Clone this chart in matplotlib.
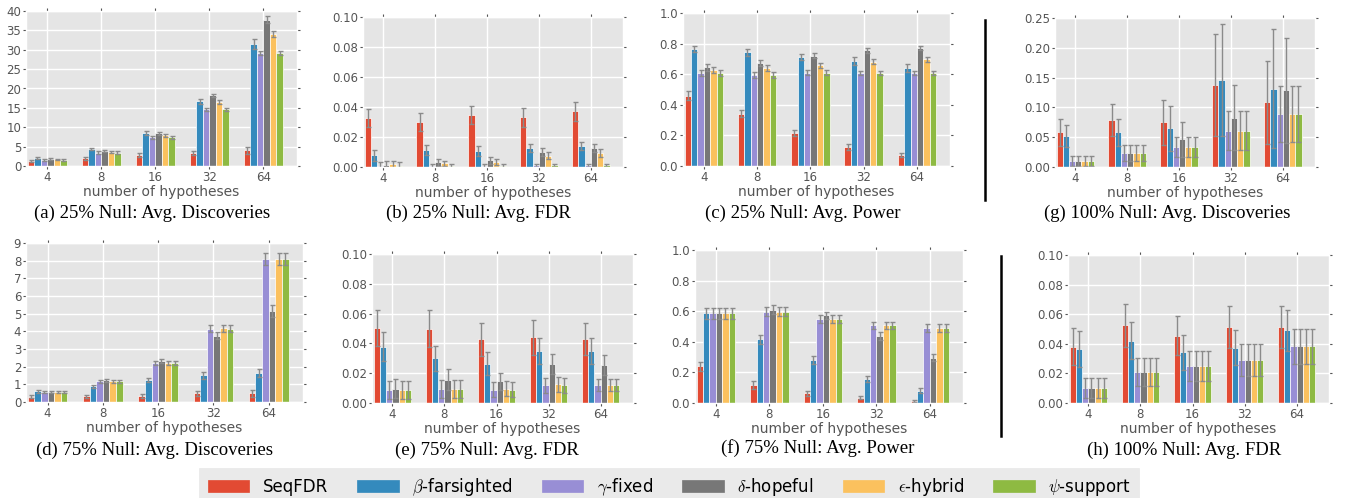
import numpy as np
import matplotlib
matplotlib.use('Agg')
import matplotlib.pyplot as plt

plt.style.use('ggplot')
plt.rcParams['mathtext.fontset'] = 'cm'

# categorias y metodos
hyps = ['4', '8', '16', '32', '64']
metodos = ['SeqFDR', r'$\beta$-farsighted', r'$\gamma$-fixed',
           r'$\delta$-hopeful', r'$\epsilon$-hybrid', r'$\psi$-support']
colores = ['#E24A33', '#348ABD', '#988ED5', '#777777', '#FBC15E', '#8EBA42']

# (a) 25% Null: Avg. Discoveries  (filas = metodo, columnas = hipotesis)
disc25 = [[1.3, 2.0, 2.85, 3.35, 4.05],
          [2.1, 4.4, 8.5, 16.7, 31.5],
          [1.6, 3.45, 7.4, 14.6, 29.2],
          [1.7, 3.9, 8.5, 18.2, 37.8],
          [1.7, 3.6, 7.9, 16.5, 34.1],
          [1.6, 3.45, 7.4, 14.6, 29.2]]
disc25_err = [[0.3, 0.4, 0.5, 0.6, 0.9],
              [0.3, 0.35, 0.5, 0.7, 1.2],
              [0.2, 0.3, 0.35, 0.45, 0.6],
              [0.25, 0.35, 0.4, 0.5, 0.8],
              [0.2, 0.3, 0.35, 0.5, 0.7],
              [0.2, 0.3, 0.35, 0.45, 0.6]]

# (b) 25% Null: Avg. FDR
fdr25 = [[0.0328, 0.0300, 0.0344, 0.0330, 0.0370],
         [0.0078, 0.0112, 0.0105, 0.0125, 0.0138],
         [0.0005, 0.0007, 0.0004, 0.0011, 0.0011],
         [0.0016, 0.0031, 0.0045, 0.0100, 0.0125],
         [0.0018, 0.0025, 0.0034, 0.0076, 0.0092],
         [0.0007, 0.0007, 0.0007, 0.0011, 0.0011]]
fdr25_err = [[0.006, 0.0058, 0.006, 0.0064, 0.0066],
             [0.0038, 0.0035, 0.0032, 0.0027, 0.0028],
             [0.0025, 0.0015, 0.0015, 0.001, 0.001],
             [0.0025, 0.0022, 0.0022, 0.0025, 0.0027],
             [0.0025, 0.0018, 0.002, 0.0025, 0.0025],
             [0.0025, 0.0015, 0.0015, 0.001, 0.001]]

# (c) 25% Null: Avg. Power
pow25 = [[0.459, 0.343, 0.214, 0.124, 0.072],
         [0.764, 0.742, 0.712, 0.686, 0.642],
         [0.607, 0.596, 0.611, 0.609, 0.605],
         [0.646, 0.672, 0.720, 0.755, 0.773],
         [0.629, 0.640, 0.657, 0.683, 0.697],
         [0.607, 0.596, 0.611, 0.609, 0.605]]
pow25_err = [[0.028, 0.025, 0.02, 0.017, 0.013],
             [0.022, 0.022, 0.022, 0.025, 0.025],
             [0.02, 0.018, 0.015, 0.013, 0.013],
             [0.022, 0.02, 0.016, 0.015, 0.013],
             [0.02, 0.018, 0.016, 0.015, 0.015],
             [0.02, 0.018, 0.015, 0.013, 0.013]]

# (g) 100% Null: Avg. Discoveries
disc100 = [[0.058, 0.079, 0.075, 0.1376, 0.1084],
           [0.052, 0.058, 0.0646, 0.1455, 0.1315],
           [0.0101, 0.0236, 0.0337, 0.0612, 0.0888],
           [0.0101, 0.0236, 0.0466, 0.0830, 0.1290],
           [0.0101, 0.0236, 0.0337, 0.0612, 0.0888],
           [0.0101, 0.0236, 0.0337, 0.0612, 0.0888]]
disc100_err = [[0.022, 0.027, 0.038, 0.085, 0.070],
               [0.019, 0.022, 0.037, 0.094, 0.100],
               [0.0085, 0.013, 0.0163, 0.032, 0.047],
               [0.0085, 0.013, 0.029, 0.055, 0.088],
               [0.0085, 0.013, 0.0163, 0.032, 0.047],
               [0.0085, 0.013, 0.0163, 0.032, 0.047]]

# (d) 75% Null: Avg. Discoveries
disc75 = [[0.30, 0.32, 0.34, 0.49, 0.49],
          [0.60, 0.89, 1.23, 1.51, 1.64],
          [0.55, 1.17, 2.19, 4.15, 8.08],
          [0.57, 1.23, 2.30, 3.74, 5.15],
          [0.57, 1.17, 2.19, 4.17, 8.11],
          [0.55, 1.17, 2.19, 4.15, 8.08]]
disc75_err = [[0.07, 0.1, 0.1, 0.15, 0.2],
              [0.07, 0.1, 0.12, 0.2, 0.25],
              [0.06, 0.1, 0.12, 0.2, 0.35],
              [0.06, 0.1, 0.12, 0.2, 0.35],
              [0.06, 0.1, 0.12, 0.2, 0.35],
              [0.06, 0.1, 0.12, 0.2, 0.35]]

# (e) 75% Null: Avg. FDR
fdr75 = [[0.0503, 0.0500, 0.0427, 0.0440, 0.0430],
         [0.0378, 0.0300, 0.0264, 0.0350, 0.0347],
         [0.0087, 0.0096, 0.0090, 0.0119, 0.0119],
         [0.0096, 0.0157, 0.0145, 0.0260, 0.0257],
         [0.0085, 0.0096, 0.0096, 0.0125, 0.0123],
         [0.0087, 0.0096, 0.0090, 0.0119, 0.0119]]
fdr75_err = [[0.012, 0.0125, 0.0113, 0.0117, 0.011],
             [0.0096, 0.0083, 0.0076, 0.0085, 0.0086],
             [0.006, 0.006, 0.005, 0.005, 0.004],
             [0.0064, 0.0068, 0.0055, 0.0068, 0.0068],
             [0.006, 0.006, 0.005, 0.005, 0.004],
             [0.006, 0.006, 0.005, 0.005, 0.004]]

# (f) 75% Null: Avg. Power
pow75 = [[0.240, 0.116, 0.063, 0.035, 0.013],
         [0.585, 0.417, 0.280, 0.155, 0.081],
         [0.587, 0.596, 0.548, 0.507, 0.491],
         [0.587, 0.611, 0.572, 0.437, 0.295],
         [0.587, 0.596, 0.548, 0.507, 0.491],
         [0.587, 0.596, 0.548, 0.507, 0.491]]
pow75_err = [[0.03, 0.025, 0.015, 0.012, 0.008],
             [0.035, 0.03, 0.025, 0.02, 0.015],
             [0.035, 0.03, 0.025, 0.025, 0.025],
             [0.035, 0.03, 0.025, 0.025, 0.022],
             [0.035, 0.03, 0.025, 0.025, 0.025],
             [0.035, 0.03, 0.025, 0.025, 0.025]]

# (h) 100% Null: Avg. FDR
fdr100 = [[0.0380, 0.0524, 0.0454, 0.0515, 0.0515],
          [0.0364, 0.0422, 0.0344, 0.0375, 0.0490],
          [0.0101, 0.0211, 0.0252, 0.0292, 0.0382],
          [0.0101, 0.0211, 0.0252, 0.0292, 0.0382],
          [0.0101, 0.0211, 0.0252, 0.0292, 0.0382],
          [0.0101, 0.0211, 0.0252, 0.0292, 0.0382]]
fdr100_err = [[0.0124, 0.0143, 0.0133, 0.014, 0.014],
              [0.012, 0.0128, 0.0118, 0.012, 0.0137],
              [0.0066, 0.0093, 0.0102, 0.0108, 0.0121],
              [0.0066, 0.0093, 0.0102, 0.0108, 0.0121],
              [0.0066, 0.0093, 0.0102, 0.0108, 0.0121],
              [0.0066, 0.0093, 0.0102, 0.0108, 0.0121]]

W, H = 1345, 498
fig = plt.figure(figsize=(W / 100, H / 100), dpi=100)
fig.patch.set_facecolor('white')


def caja(x0, y0, x1, y1):
    # pixeles -> fraccion de figura
    return [x0 / W, 1 - y1 / H, (x1 - x0) / W, (y1 - y0) / H]


def panel(px, datos, errs, ylim, yticks, fmt, caption, cap_xy):
    ax = fig.add_axes(caja(*px))
    idx = np.arange(len(hyps))
    w = 0.12
    for j in range(len(metodos)):
        ax.bar(idx + (j - 2.5) * w, datos[j], w, color=colores[j],
               edgecolor='white', linewidth=0.5, yerr=errs[j],
               ecolor='#8a8a8a', capsize=1.8,
               error_kw={'elinewidth': 1, 'capthick': 1}, label=metodos[j])
    ax.set_xlim(-0.39, 4.62)
    ax.set_ylim(*ylim)
    ax.set_yticks(yticks)
    ax.set_yticklabels([fmt % v for v in yticks])
    ax.set_xticks(idx)
    ax.set_xticklabels(hyps)
    ax.tick_params(axis='both', labelsize=8.5, colors='#555555', length=2,
                   top=True, right=True, pad=1.5)
    ax.set_xlabel('number of hypotheses', fontsize=10, color='#555555',
                  labelpad=1)
    ax.grid(True, color='white', linewidth=1)
    ax.set_axisbelow(True)
    fig.text(cap_xy[0] / W, 1 - cap_xy[1] / H, caption, ha='center',
             va='center', fontsize=13.5, family='Liberation Serif')
    return ax


yt01 = np.arange(0, 0.101, 0.02)
yt1 = np.arange(0, 1.01, 0.2)

panel((26, 11, 297, 166), disc25, disc25_err, (0, 40), np.arange(0, 41, 5),
      '%d', '(a) 25% Null: Avg. Discoveries', (152, 213))
panel((363, 17, 623, 167), fdr25, fdr25_err, (0, 0.10), yt01,
      '%.2f', '(b) 25% Null: Avg. FDR', (478, 213))
panel((683, 13, 950, 166), pow25, pow25_err, (0, 1.0), yt1,
      '%.1f', '(c) 25% Null: Avg. Power', (803, 213))
panel((1055, 18, 1315, 167), disc100, disc100_err, (0, 0.25),
      np.arange(0, 0.251, 0.05), '%.2f', '(g) 100% Null: Avg. Discoveries',
      (1167, 213))
panel((26, 243, 303, 402), disc75, disc75_err, (0, 9), np.arange(0, 10, 1),
      '%d', '(d) 75% Null: Avg. Discoveries', (155, 450))
panel((372, 254, 633, 403), fdr75, fdr75_err, (0, 0.10), yt01,
      '%.2f', '(e) 75% Null: Avg. FDR', (487, 450))
panel((695, 250, 963, 403), pow75, pow75_err, (0, 1.0), yt1,
      '%.1f', '(f) 75% Null: Avg. Power', (818, 448))
panel((1068, 255, 1329, 403), fdr100, fdr100_err, (0, 0.10), yt01,
      '%.2f', '(h) 100% Null: Avg. FDR', (1184, 450))

# lineas verticales separadoras
fig.add_artist(plt.Line2D([985 / W, 985 / W], [1 - 20 / H, 1 - 200 / H],
                          color='black', linewidth=1.8))
fig.add_artist(plt.Line2D([1001 / W, 1001 / W], [1 - 256 / H, 1 - 436 / H],
                          color='black', linewidth=1.8))

# leyenda comun
handles = [plt.Rectangle((0, 0), 1, 1, color=c) for c in colores]
leg = fig.legend(handles, metodos, loc='center', ncol=6,
                 bbox_to_anchor=(669 / W, 1 - 487 / H), fontsize=12,
                 frameon=True, fancybox=False, handlelength=2.5,
                 handleheight=0.7, columnspacing=1.75, borderpad=0.5)
leg.get_frame().set_facecolor('#e5e5e5')
leg.get_frame().set_edgecolor('#e5e5e5')

fig.savefig('out.png', dpi=100)
